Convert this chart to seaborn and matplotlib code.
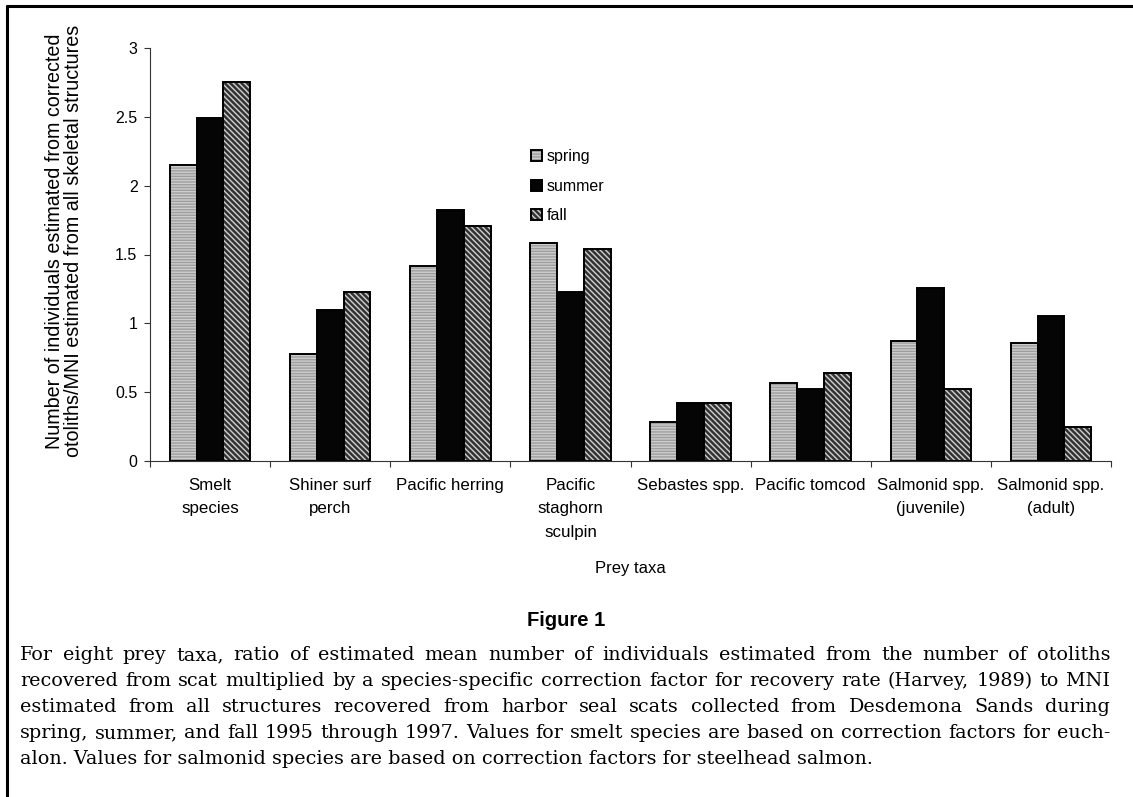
import numpy as np
import pandas as pd
import matplotlib
matplotlib.use('Agg')
import matplotlib.pyplot as plt
from matplotlib.lines import Line2D
import seaborn as sns

# values
taxa = ['Smelt\nspecies', 'Shiner surf\nperch', 'Pacific herring', 'Pacific\nstaghorn\nsculpin',
        'Sebastes spp.', 'Pacific tomcod', 'Salmonid spp.\n(juvenile)', 'Salmonid spp.\n(adult)']
seasons = ['spring', 'summer', 'fall']
spring = [2.15, 0.78, 1.42, 1.58, 0.28, 0.57, 0.87, 0.86]
summer = [2.49, 1.10, 1.82, 1.23, 0.42, 0.52, 1.26, 1.05]
fall = [2.75, 1.23, 1.71, 1.54, 0.42, 0.64, 0.52, 0.25]

caption_lines = [
    'For eight prey taxa, ratio of estimated mean number of individuals estimated from the number of otoliths',
    'recovered from scat multiplied by a species-specific correction factor for recovery rate (Harvey, 1989) to MNI',
    'estimated from all structures recovered from harbor seal scats collected from Desdemona Sands during',
    'spring, summer, and fall 1995 through 1997. Values for smelt species are based on correction factors for euch-',
    'alon. Values for salmonid species are based on correction factors for steelhead salmon.',
]

df = pd.DataFrame({
    'taxon': taxa * 3,
    'season': ['spring'] * 8 + ['summer'] * 8 + ['fall'] * 8,
    'ratio': spring + summer + fall,
})

sns.set_style('ticks')
plt.rcParams['font.family'] = ['Liberation Sans', 'DejaVu Sans']
plt.rcParams['text.color'] = 'black'
plt.rcParams['xtick.labelcolor'] = 'black'
plt.rcParams['ytick.labelcolor'] = 'black'
plt.rcParams['axes.labelcolor'] = 'black'

fig = plt.figure(figsize=(11.33, 7.97), dpi=100)
ax = fig.add_axes([150 / 1133, 1 - 461 / 797, 961 / 1133, 413 / 797])

sns.barplot(data=df, x='taxon', y='ratio', hue='season', hue_order=seasons,
            palette=['#cdcdcd', '#050505', '#333333'], width=0.67,
            edgecolor='black', linewidth=1.4, legend=False, ax=ax)

# textures like the printed figure
styles = [('------', (0.62, 0.62, 0.62, 1)), ('', (0, 0, 0, 1)), ('\\' * 6, (0.82, 0.82, 0.82, 1))]
for cont, (hatch, hcol) in zip(ax.containers, styles):
    for p in cont.patches:
        p.set_hatch(hatch)
        p._hatch_color = hcol

ax.set_ylim(0, 3)
ax.set_xlim(-0.5, 7.5)
ax.set_yticks(np.arange(0, 3.01, 0.5))
ax.set_yticklabels(['0', '0.5', '1', '1.5', '2', '2.5', '3'], fontsize=11.5)
ax.set_xticks(range(8))
ax.set_xticklabels(taxa, fontsize=12.2, linespacing=1.72, va='top')
ax.set_xticks(np.arange(-0.5, 8, 1), minor=True)
ax.tick_params(axis='x', which='major', length=0, pad=12)
ax.tick_params(axis='x', which='minor', length=4, direction='out', width=0.8, color='#333333')
ax.tick_params(axis='y', length=4, width=0.8, color='#333333', pad=5)
ax.set_xlabel('Prey taxa', fontsize=12, labelpad=15)
ax.set_ylabel('')
sns.despine(ax=ax)
for s in ['left', 'bottom']:
    ax.spines[s].set_linewidth(0.8)
    ax.spines[s].set_color('#333333')

leg = ax.legend(ax.containers, seasons, loc='upper left', bbox_to_anchor=(0.39, 0.77),
                frameon=False, fontsize=11.5, handlelength=0.7, handleheight=0.7,
                handletextpad=0.25, labelspacing=0.9, borderaxespad=0)

fig.text(64 / 1133, 1 - 241 / 797,
         'Number of individuals estimated from corrected\notoliths/MNI estimated from all skeletal structures',
         rotation=90, ha='center', va='center', fontsize=14.2, linespacing=0.95)

fig.text(0.5, 1 - 620 / 797, 'Figure 1', ha='center', va='center', fontsize=14.5, fontweight='bold')

# justified caption, font size chosen so the longest line fits the block
renderer = fig.canvas.get_renderer()
x0, x1 = 20, 1110
probe = fig.text(0, 0, caption_lines[3], family='DejaVu Serif', fontsize=12)
cap_size = 12 * (x1 - x0 - 12) / probe.get_window_extent(renderer).width
probe.remove()
for i, line in enumerate(caption_lines):
    ypos = 1 - (655 + 26 * i) / 797
    words = line.split(' ')
    if i == len(caption_lines) - 1:
        fig.text(x0 / 1133, ypos, line, family='DejaVu Serif', fontsize=cap_size, va='center')
        continue
    txts = [fig.text(0, ypos, w, family='DejaVu Serif', fontsize=cap_size, va='center') for w in words]
    widths = [t.get_window_extent(renderer).width for t in txts]
    gap = (x1 - x0 - sum(widths)) / (len(words) - 1)
    x = x0
    for t, w in zip(txts, widths):
        t.set_x(x / 1133)
        x += w + gap

# frame lines of the original page
fig.add_artist(Line2D([7 / 1133, 7 / 1133], [0, 1 - 6 / 797], transform=fig.transFigure,
                      color='black', linewidth=2.2))
fig.add_artist(Line2D([7 / 1133, 1], [1 - 6 / 797, 1 - 6 / 797], transform=fig.transFigure,
                      color='black', linewidth=2.2))

fig.savefig('out.png', dpi=100)
